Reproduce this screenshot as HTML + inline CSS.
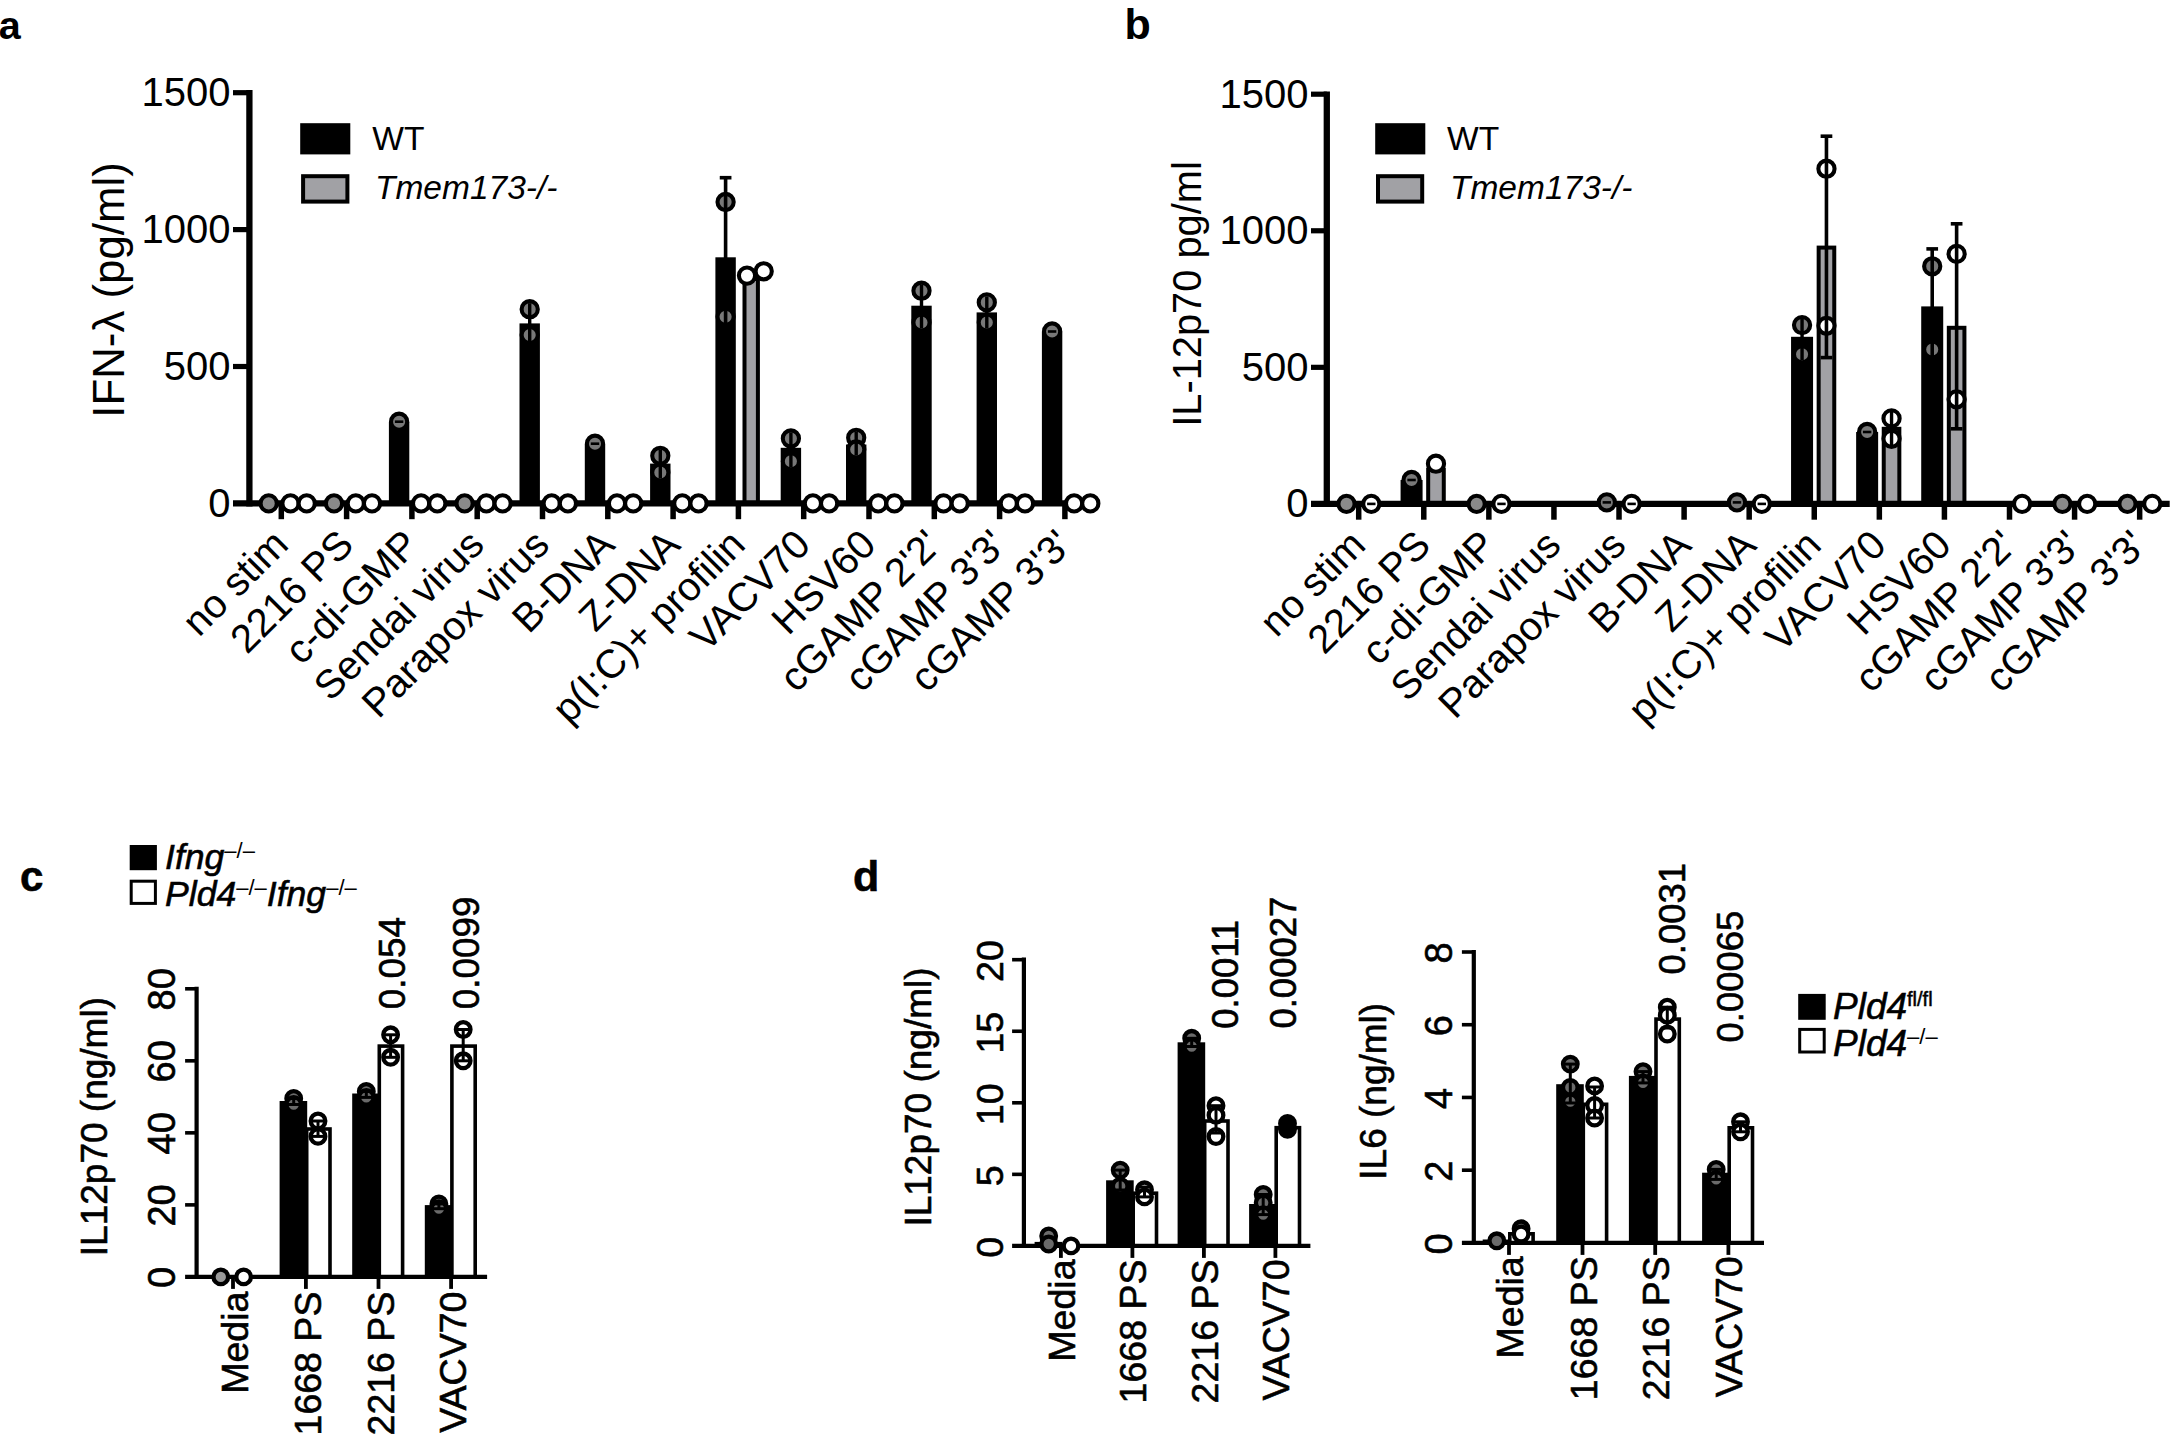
<!DOCTYPE html>
<html lang="en">
<head>
<meta charset="utf-8">
<title>Figure</title>
<style>
html,body{margin:0;padding:0;background:#fff;}
body{width:2177px;height:1436px;overflow:hidden;}
svg{display:block;}
svg text{font-family:"Liberation Sans",sans-serif;fill:#000;}
</style>
</head>
<body>
<svg width="2177" height="1436" viewBox="0 0 2177 1436">
<rect x="0" y="0" width="2177" height="1436" fill="#fff"/>
<rect x="388.9" y="422" width="20.4" height="81.4" fill="#000"/>
<rect x="519.5" y="323.4" width="20.4" height="180" fill="#000"/>
<rect x="584.8" y="444" width="20.4" height="59.4" fill="#000"/>
<rect x="650.1" y="463.6" width="20.4" height="39.8" fill="#000"/>
<rect x="715.4" y="257.3" width="20.4" height="246.1" fill="#000"/>
<rect x="744.5" y="279" width="13.4" height="224.4" fill="#a1a1a5" stroke="#000" stroke-width="4"/>
<rect x="780.7" y="447.8" width="20.4" height="55.6" fill="#000"/>
<rect x="846" y="444.5" width="20.4" height="58.9" fill="#000"/>
<rect x="911.3" y="305.7" width="20.4" height="197.7" fill="#000"/>
<rect x="976.6" y="312.4" width="20.4" height="191" fill="#000"/>
<rect x="1041.9" y="331.5" width="20.4" height="171.9" fill="#000"/>
<line x1="249.4" y1="90.1" x2="249.4" y2="506.6" stroke="#000" stroke-width="6.3"/>
<line x1="233" y1="503.4" x2="1098" y2="503.4" stroke="#000" stroke-width="6.4"/>
<line x1="233" y1="366.5" x2="249.4" y2="366.5" stroke="#000" stroke-width="5.2"/>
<line x1="233" y1="229.6" x2="249.4" y2="229.6" stroke="#000" stroke-width="5.2"/>
<line x1="233" y1="92.7" x2="249.4" y2="92.7" stroke="#000" stroke-width="5.2"/>
<line x1="281.3" y1="503.4" x2="281.3" y2="519.2" stroke="#000" stroke-width="5.5"/>
<line x1="346.6" y1="503.4" x2="346.6" y2="519.2" stroke="#000" stroke-width="5.5"/>
<line x1="411.9" y1="503.4" x2="411.9" y2="519.2" stroke="#000" stroke-width="5.5"/>
<line x1="477.2" y1="503.4" x2="477.2" y2="519.2" stroke="#000" stroke-width="5.5"/>
<line x1="542.5" y1="503.4" x2="542.5" y2="519.2" stroke="#000" stroke-width="5.5"/>
<line x1="607.8" y1="503.4" x2="607.8" y2="519.2" stroke="#000" stroke-width="5.5"/>
<line x1="673.1" y1="503.4" x2="673.1" y2="519.2" stroke="#000" stroke-width="5.5"/>
<line x1="738.4" y1="503.4" x2="738.4" y2="519.2" stroke="#000" stroke-width="5.5"/>
<line x1="803.7" y1="503.4" x2="803.7" y2="519.2" stroke="#000" stroke-width="5.5"/>
<line x1="869" y1="503.4" x2="869" y2="519.2" stroke="#000" stroke-width="5.5"/>
<line x1="934.3" y1="503.4" x2="934.3" y2="519.2" stroke="#000" stroke-width="5.5"/>
<line x1="999.6" y1="503.4" x2="999.6" y2="519.2" stroke="#000" stroke-width="5.5"/>
<line x1="1064.9" y1="503.4" x2="1064.9" y2="519.2" stroke="#000" stroke-width="5.5"/>
<text font-size="40" text-anchor="end" x="230.4" y="516.8">0</text>
<text font-size="40" text-anchor="end" x="230.4" y="379.9">500</text>
<text font-size="40" text-anchor="end" x="230.4" y="243">1000</text>
<text font-size="40" text-anchor="end" x="230.4" y="106.1">1500</text>
<circle cx="268.7" cy="503.4" r="8.1" fill="#8a8a8a" stroke="#000" stroke-width="4.1"/>
<circle cx="334" cy="503.4" r="8.1" fill="#8a8a8a" stroke="#000" stroke-width="4.1"/>
<circle cx="464.6" cy="503.4" r="8.1" fill="#8a8a8a" stroke="#000" stroke-width="4.1"/>
<circle cx="290.5" cy="503.4" r="8.1" fill="#fff" stroke="#000" stroke-width="4.1"/>
<circle cx="306.7" cy="503.4" r="8.1" fill="#fff" stroke="#000" stroke-width="4.1"/>
<circle cx="355.8" cy="503.4" r="8.1" fill="#fff" stroke="#000" stroke-width="4.1"/>
<circle cx="372" cy="503.4" r="8.1" fill="#fff" stroke="#000" stroke-width="4.1"/>
<circle cx="421.1" cy="503.4" r="8.1" fill="#fff" stroke="#000" stroke-width="4.1"/>
<circle cx="437.3" cy="503.4" r="8.1" fill="#fff" stroke="#000" stroke-width="4.1"/>
<circle cx="486.4" cy="503.4" r="8.1" fill="#fff" stroke="#000" stroke-width="4.1"/>
<circle cx="502.6" cy="503.4" r="8.1" fill="#fff" stroke="#000" stroke-width="4.1"/>
<circle cx="551.7" cy="503.4" r="8.1" fill="#fff" stroke="#000" stroke-width="4.1"/>
<circle cx="567.9" cy="503.4" r="8.1" fill="#fff" stroke="#000" stroke-width="4.1"/>
<circle cx="617" cy="503.4" r="8.1" fill="#fff" stroke="#000" stroke-width="4.1"/>
<circle cx="633.2" cy="503.4" r="8.1" fill="#fff" stroke="#000" stroke-width="4.1"/>
<circle cx="682.3" cy="503.4" r="8.1" fill="#fff" stroke="#000" stroke-width="4.1"/>
<circle cx="698.5" cy="503.4" r="8.1" fill="#fff" stroke="#000" stroke-width="4.1"/>
<circle cx="812.9" cy="503.4" r="8.1" fill="#fff" stroke="#000" stroke-width="4.1"/>
<circle cx="829.1" cy="503.4" r="8.1" fill="#fff" stroke="#000" stroke-width="4.1"/>
<circle cx="878.2" cy="503.4" r="8.1" fill="#fff" stroke="#000" stroke-width="4.1"/>
<circle cx="894.4" cy="503.4" r="8.1" fill="#fff" stroke="#000" stroke-width="4.1"/>
<circle cx="943.5" cy="503.4" r="8.1" fill="#fff" stroke="#000" stroke-width="4.1"/>
<circle cx="959.7" cy="503.4" r="8.1" fill="#fff" stroke="#000" stroke-width="4.1"/>
<circle cx="1008.8" cy="503.4" r="8.1" fill="#fff" stroke="#000" stroke-width="4.1"/>
<circle cx="1025" cy="503.4" r="8.1" fill="#fff" stroke="#000" stroke-width="4.1"/>
<circle cx="1074.1" cy="503.4" r="8.1" fill="#fff" stroke="#000" stroke-width="4.1"/>
<circle cx="1090.3" cy="503.4" r="8.1" fill="#fff" stroke="#000" stroke-width="4.1"/>
<circle cx="399.1" cy="421.7" r="8.1" fill="#787878" stroke="#000" stroke-width="4.1"/>
<circle cx="529.7" cy="309.2" r="8.1" fill="#787878" stroke="#000" stroke-width="4.1"/>
<circle cx="529.7" cy="335" r="8.1" fill="#787878" stroke="#000" stroke-width="4.1"/>
<circle cx="595" cy="443.7" r="8.1" fill="#787878" stroke="#000" stroke-width="4.1"/>
<circle cx="660.3" cy="455.8" r="8.1" fill="#787878" stroke="#000" stroke-width="4.1"/>
<circle cx="660.3" cy="472.5" r="8.1" fill="#787878" stroke="#000" stroke-width="4.1"/>
<circle cx="725.6" cy="202" r="8.1" fill="#787878" stroke="#000" stroke-width="4.1"/>
<circle cx="725.6" cy="316.8" r="8.1" fill="#787878" stroke="#000" stroke-width="4.1"/>
<circle cx="790.9" cy="438.5" r="8.1" fill="#787878" stroke="#000" stroke-width="4.1"/>
<circle cx="790.9" cy="461.2" r="8.1" fill="#787878" stroke="#000" stroke-width="4.1"/>
<circle cx="856.2" cy="437.8" r="8.1" fill="#787878" stroke="#000" stroke-width="4.1"/>
<circle cx="856.2" cy="449.5" r="8.1" fill="#787878" stroke="#000" stroke-width="4.1"/>
<circle cx="921.5" cy="290.7" r="8.1" fill="#787878" stroke="#000" stroke-width="4.1"/>
<circle cx="921.5" cy="322.5" r="8.1" fill="#787878" stroke="#000" stroke-width="4.1"/>
<circle cx="986.8" cy="302.4" r="8.1" fill="#787878" stroke="#000" stroke-width="4.1"/>
<circle cx="986.8" cy="322.5" r="8.1" fill="#787878" stroke="#000" stroke-width="4.1"/>
<circle cx="1052.1" cy="331.5" r="8.1" fill="#787878" stroke="#000" stroke-width="4.1"/>
<circle cx="747" cy="275.6" r="8.1" fill="#fff" stroke="#000" stroke-width="4.1"/>
<circle cx="763.7" cy="271.3" r="8.1" fill="#fff" stroke="#000" stroke-width="4.1"/>
<line x1="725.6" y1="177.7" x2="725.6" y2="336.9" stroke="#000" stroke-width="3.6"/>
<line x1="719.75" y1="177.7" x2="731.45" y2="177.7" stroke="#000" stroke-width="3.6"/>
<line x1="719.75" y1="336.9" x2="731.45" y2="336.9" stroke="#000" stroke-width="3.6"/>
<line x1="529.7" y1="303.2" x2="529.7" y2="341" stroke="#000" stroke-width="3.4"/>
<line x1="529.7" y1="303.2" x2="529.7" y2="303.2" stroke="#000" stroke-width="3.4"/>
<line x1="529.7" y1="341" x2="529.7" y2="341" stroke="#000" stroke-width="3.4"/>
<line x1="660.3" y1="449.8" x2="660.3" y2="478.5" stroke="#000" stroke-width="3.4"/>
<line x1="660.3" y1="449.8" x2="660.3" y2="449.8" stroke="#000" stroke-width="3.4"/>
<line x1="660.3" y1="478.5" x2="660.3" y2="478.5" stroke="#000" stroke-width="3.4"/>
<line x1="790.9" y1="432.5" x2="790.9" y2="467.2" stroke="#000" stroke-width="3.4"/>
<line x1="790.9" y1="432.5" x2="790.9" y2="432.5" stroke="#000" stroke-width="3.4"/>
<line x1="790.9" y1="467.2" x2="790.9" y2="467.2" stroke="#000" stroke-width="3.4"/>
<line x1="856.2" y1="431.8" x2="856.2" y2="455.5" stroke="#000" stroke-width="3.4"/>
<line x1="856.2" y1="431.8" x2="856.2" y2="431.8" stroke="#000" stroke-width="3.4"/>
<line x1="856.2" y1="455.5" x2="856.2" y2="455.5" stroke="#000" stroke-width="3.4"/>
<line x1="921.5" y1="284.7" x2="921.5" y2="328.5" stroke="#000" stroke-width="3.4"/>
<line x1="921.5" y1="284.7" x2="921.5" y2="284.7" stroke="#000" stroke-width="3.4"/>
<line x1="921.5" y1="328.5" x2="921.5" y2="328.5" stroke="#000" stroke-width="3.4"/>
<line x1="986.8" y1="296.4" x2="986.8" y2="328.5" stroke="#000" stroke-width="3.4"/>
<line x1="986.8" y1="296.4" x2="986.8" y2="296.4" stroke="#000" stroke-width="3.4"/>
<line x1="986.8" y1="328.5" x2="986.8" y2="328.5" stroke="#000" stroke-width="3.4"/>
<line x1="394.9" y1="421.7" x2="403.3" y2="421.7" stroke="#000" stroke-width="2.6"/>
<line x1="590.8" y1="443.7" x2="599.2" y2="443.7" stroke="#000" stroke-width="2.6"/>
<line x1="1047.9" y1="331.5" x2="1056.3" y2="331.5" stroke="#000" stroke-width="2.6"/>
<text font-size="40" text-anchor="end" transform="translate(290.2 546.8) rotate(-45)">no stim</text>
<text font-size="40" text-anchor="end" transform="translate(355.5 546.8) rotate(-45)">2216 PS</text>
<text font-size="40" text-anchor="end" transform="translate(420.8 546.8) rotate(-45)">c-di-GMP</text>
<text font-size="40" text-anchor="end" transform="translate(486.1 546.8) rotate(-45)">Sendai virus</text>
<text font-size="40" text-anchor="end" transform="translate(551.4 546.8) rotate(-45)">Parapox virus</text>
<text font-size="40" text-anchor="end" transform="translate(616.7 546.8) rotate(-45)">B-DNA</text>
<text font-size="40" text-anchor="end" transform="translate(682 546.8) rotate(-45)">Z-DNA</text>
<text font-size="40" text-anchor="end" transform="translate(747.3 546.8) rotate(-45)">p(I:C)+ profilin</text>
<text font-size="40" text-anchor="end" transform="translate(812.6 546.8) rotate(-45)">VACV70</text>
<text font-size="40" text-anchor="end" transform="translate(877.9 546.8) rotate(-45)">HSV60</text>
<text font-size="40" text-anchor="end" transform="translate(943.2 546.8) rotate(-45)">cGAMP 2'2'</text>
<text font-size="40" text-anchor="end" transform="translate(1008.5 546.8) rotate(-45)">cGAMP 3'3'</text>
<text font-size="40" text-anchor="end" transform="translate(1073.8 546.8) rotate(-45)">cGAMP 3'3'</text>
<text font-size="39.5" font-weight="bold" x="-1.2" y="38.9">a</text>
<text font-size="43.8" text-anchor="middle" transform="translate(123.5 290) rotate(-90)">IFN-λ (pg/ml)</text>
<rect x="300.2" y="123.2" width="50.1" height="31.2" fill="#000"/>
<rect x="303.1" y="176.2" width="44.3" height="25.4" fill="#a1a1a5" stroke="#000" stroke-width="4"/>
<text font-size="33.6" x="372.2" y="150.3">WT</text>
<text font-size="33.5" font-style="italic" x="375" y="198.8">Tmem173-/-</text>
<rect x="1400.58" y="480" width="22" height="23.9" fill="#000"/>
<rect x="1428.18" y="470" width="15.6" height="33.9" fill="#a1a1a5" stroke="#000" stroke-width="4"/>
<rect x="1791.06" y="336.8" width="22" height="167.1" fill="#000"/>
<rect x="1818.66" y="247.6" width="15.6" height="256.3" fill="#a1a1a5" stroke="#000" stroke-width="4"/>
<rect x="1856.14" y="432" width="22" height="71.9" fill="#000"/>
<rect x="1883.74" y="428.8" width="15.6" height="75.1" fill="#a1a1a5" stroke="#000" stroke-width="4"/>
<rect x="1921.22" y="306.4" width="22" height="197.5" fill="#000"/>
<rect x="1948.82" y="327.8" width="15.6" height="176.1" fill="#a1a1a5" stroke="#000" stroke-width="4"/>
<line x1="1326.8" y1="91.6" x2="1326.8" y2="507.1" stroke="#000" stroke-width="6.3"/>
<line x1="1311" y1="503.9" x2="2169.7" y2="503.9" stroke="#000" stroke-width="6.4"/>
<line x1="1311" y1="367.33" x2="1326.8" y2="367.33" stroke="#000" stroke-width="5.2"/>
<line x1="1311" y1="230.77" x2="1326.8" y2="230.77" stroke="#000" stroke-width="5.2"/>
<line x1="1311" y1="94.2" x2="1326.8" y2="94.2" stroke="#000" stroke-width="5.2"/>
<line x1="1358.7" y1="503.9" x2="1358.7" y2="519.7" stroke="#000" stroke-width="5.5"/>
<line x1="1423.78" y1="503.9" x2="1423.78" y2="519.7" stroke="#000" stroke-width="5.5"/>
<line x1="1488.86" y1="503.9" x2="1488.86" y2="519.7" stroke="#000" stroke-width="5.5"/>
<line x1="1553.94" y1="503.9" x2="1553.94" y2="519.7" stroke="#000" stroke-width="5.5"/>
<line x1="1619.02" y1="503.9" x2="1619.02" y2="519.7" stroke="#000" stroke-width="5.5"/>
<line x1="1684.1" y1="503.9" x2="1684.1" y2="519.7" stroke="#000" stroke-width="5.5"/>
<line x1="1749.18" y1="503.9" x2="1749.18" y2="519.7" stroke="#000" stroke-width="5.5"/>
<line x1="1814.26" y1="503.9" x2="1814.26" y2="519.7" stroke="#000" stroke-width="5.5"/>
<line x1="1879.34" y1="503.9" x2="1879.34" y2="519.7" stroke="#000" stroke-width="5.5"/>
<line x1="1944.42" y1="503.9" x2="1944.42" y2="519.7" stroke="#000" stroke-width="5.5"/>
<line x1="2009.5" y1="503.9" x2="2009.5" y2="519.7" stroke="#000" stroke-width="5.5"/>
<line x1="2074.58" y1="503.9" x2="2074.58" y2="519.7" stroke="#000" stroke-width="5.5"/>
<line x1="2139.66" y1="503.9" x2="2139.66" y2="519.7" stroke="#000" stroke-width="5.5"/>
<text font-size="40" text-anchor="end" x="1308.4" y="517.3">0</text>
<text font-size="40" text-anchor="end" x="1308.4" y="380.73">500</text>
<text font-size="40" text-anchor="end" x="1308.4" y="244.17">1000</text>
<text font-size="40" text-anchor="end" x="1308.4" y="107.6">1500</text>
<circle cx="1346.5" cy="503.9" r="8.1" fill="#8a8a8a" stroke="#000" stroke-width="4.1"/>
<circle cx="1476.66" cy="503.9" r="8.1" fill="#8a8a8a" stroke="#000" stroke-width="4.1"/>
<circle cx="2062.38" cy="503.9" r="8.1" fill="#8a8a8a" stroke="#000" stroke-width="4.1"/>
<circle cx="2127.46" cy="503.9" r="8.1" fill="#8a8a8a" stroke="#000" stroke-width="4.1"/>
<circle cx="1606.82" cy="502.4" r="8.1" fill="#787878" stroke="#000" stroke-width="4.1"/>
<circle cx="1736.98" cy="502.4" r="8.1" fill="#787878" stroke="#000" stroke-width="4.1"/>
<circle cx="1371.3" cy="503.9" r="8.1" fill="#fff" stroke="#000" stroke-width="4.1"/>
<circle cx="1501.46" cy="503.9" r="8.1" fill="#fff" stroke="#000" stroke-width="4.1"/>
<circle cx="1631.62" cy="503.9" r="8.1" fill="#fff" stroke="#000" stroke-width="4.1"/>
<circle cx="1761.78" cy="503.9" r="8.1" fill="#fff" stroke="#000" stroke-width="4.1"/>
<circle cx="2022.1" cy="503.9" r="8.1" fill="#fff" stroke="#000" stroke-width="4.1"/>
<circle cx="2087.18" cy="503.9" r="8.1" fill="#fff" stroke="#000" stroke-width="4.1"/>
<circle cx="2152.26" cy="503.9" r="8.1" fill="#fff" stroke="#000" stroke-width="4.1"/>
<circle cx="1411.58" cy="480" r="8.1" fill="#787878" stroke="#000" stroke-width="4.1"/>
<circle cx="1435.98" cy="463.7" r="8.1" fill="#fff" stroke="#000" stroke-width="4.1"/>
<circle cx="1802.06" cy="325.1" r="8.1" fill="#787878" stroke="#000" stroke-width="4.1"/>
<circle cx="1802.06" cy="354.2" r="8.1" fill="#787878" stroke="#000" stroke-width="4.1"/>
<circle cx="1826.46" cy="168.7" r="8.1" fill="#fff" stroke="#000" stroke-width="4.1"/>
<circle cx="1826.46" cy="325.8" r="8.1" fill="#fff" stroke="#000" stroke-width="4.1"/>
<circle cx="1867.14" cy="432" r="8.1" fill="#787878" stroke="#000" stroke-width="4.1"/>
<circle cx="1891.54" cy="418.4" r="8.1" fill="#fff" stroke="#000" stroke-width="4.1"/>
<circle cx="1891.54" cy="438.8" r="8.1" fill="#fff" stroke="#000" stroke-width="4.1"/>
<circle cx="1932.22" cy="266.3" r="8.1" fill="#787878" stroke="#000" stroke-width="4.1"/>
<circle cx="1932.22" cy="349.5" r="8.1" fill="#787878" stroke="#000" stroke-width="4.1"/>
<circle cx="1956.62" cy="253.9" r="8.1" fill="#fff" stroke="#000" stroke-width="4.1"/>
<circle cx="1956.62" cy="399.3" r="8.1" fill="#fff" stroke="#000" stroke-width="4.1"/>
<line x1="1826.46" y1="136.2" x2="1826.46" y2="357.6" stroke="#000" stroke-width="3.6"/>
<line x1="1820.61" y1="136.2" x2="1832.31" y2="136.2" stroke="#000" stroke-width="3.6"/>
<line x1="1820.61" y1="357.6" x2="1832.31" y2="357.6" stroke="#000" stroke-width="3.6"/>
<line x1="1932.22" y1="248.9" x2="1932.22" y2="363.9" stroke="#000" stroke-width="3.6"/>
<line x1="1926.37" y1="248.9" x2="1938.07" y2="248.9" stroke="#000" stroke-width="3.6"/>
<line x1="1926.37" y1="363.9" x2="1938.07" y2="363.9" stroke="#000" stroke-width="3.6"/>
<line x1="1956.62" y1="223.8" x2="1956.62" y2="428.8" stroke="#000" stroke-width="3.6"/>
<line x1="1950.77" y1="223.8" x2="1962.47" y2="223.8" stroke="#000" stroke-width="3.6"/>
<line x1="1950.77" y1="428.8" x2="1962.47" y2="428.8" stroke="#000" stroke-width="3.6"/>
<line x1="1802.06" y1="319" x2="1802.06" y2="360" stroke="#000" stroke-width="3.4"/>
<line x1="1802.06" y1="319" x2="1802.06" y2="319" stroke="#000" stroke-width="3.4"/>
<line x1="1802.06" y1="360" x2="1802.06" y2="360" stroke="#000" stroke-width="3.4"/>
<line x1="1891.54" y1="412" x2="1891.54" y2="445" stroke="#000" stroke-width="3.4"/>
<line x1="1891.54" y1="412" x2="1891.54" y2="412" stroke="#000" stroke-width="3.4"/>
<line x1="1891.54" y1="445" x2="1891.54" y2="445" stroke="#000" stroke-width="3.4"/>
<line x1="1367.1" y1="503.9" x2="1375.5" y2="503.9" stroke="#000" stroke-width="2.6"/>
<line x1="1497.26" y1="503.9" x2="1505.66" y2="503.9" stroke="#000" stroke-width="2.6"/>
<line x1="1627.42" y1="503.9" x2="1635.82" y2="503.9" stroke="#000" stroke-width="2.6"/>
<line x1="1757.58" y1="503.9" x2="1765.98" y2="503.9" stroke="#000" stroke-width="2.6"/>
<line x1="1407.38" y1="480" x2="1415.78" y2="480" stroke="#000" stroke-width="2.6"/>
<line x1="1862.94" y1="432" x2="1871.34" y2="432" stroke="#000" stroke-width="2.6"/>
<line x1="1602.62" y1="502.4" x2="1611.02" y2="502.4" stroke="#000" stroke-width="2.6"/>
<line x1="1732.78" y1="502.4" x2="1741.18" y2="502.4" stroke="#000" stroke-width="2.6"/>
<text font-size="40" text-anchor="end" transform="translate(1367.6 547.3) rotate(-45)">no stim</text>
<text font-size="40" text-anchor="end" transform="translate(1432.68 547.3) rotate(-45)">2216 PS</text>
<text font-size="40" text-anchor="end" transform="translate(1497.76 547.3) rotate(-45)">c-di-GMP</text>
<text font-size="40" text-anchor="end" transform="translate(1562.84 547.3) rotate(-45)">Sendai virus</text>
<text font-size="40" text-anchor="end" transform="translate(1627.92 547.3) rotate(-45)">Parapox virus</text>
<text font-size="40" text-anchor="end" transform="translate(1693 547.3) rotate(-45)">B-DNA</text>
<text font-size="40" text-anchor="end" transform="translate(1758.08 547.3) rotate(-45)">Z-DNA</text>
<text font-size="40" text-anchor="end" transform="translate(1823.16 547.3) rotate(-45)">p(I:C)+ profilin</text>
<text font-size="40" text-anchor="end" transform="translate(1888.24 547.3) rotate(-45)">VACV70</text>
<text font-size="40" text-anchor="end" transform="translate(1953.32 547.3) rotate(-45)">HSV60</text>
<text font-size="40" text-anchor="end" transform="translate(2018.4 547.3) rotate(-45)">cGAMP 2'2'</text>
<text font-size="40" text-anchor="end" transform="translate(2083.48 547.3) rotate(-45)">cGAMP 3'3'</text>
<text font-size="40" text-anchor="end" transform="translate(2148.56 547.3) rotate(-45)">cGAMP 3'3'</text>
<text font-size="43" font-weight="bold" x="1124.5" y="39.3">b</text>
<text font-size="39.8" text-anchor="middle" transform="translate(1201 294) rotate(-90)">IL-12p70 pg/ml</text>
<rect x="1375.2" y="123.2" width="50.1" height="31.2" fill="#000"/>
<rect x="1378" y="176.2" width="44.2" height="25.4" fill="#a1a1a5" stroke="#000" stroke-width="4"/>
<text font-size="33.6" x="1447" y="149.6">WT</text>
<text font-size="33.5" font-style="italic" x="1450" y="198.7">Tmem173-/-</text>
<rect x="279.6" y="1101" width="27.6" height="175.9" fill="#000"/>
<rect x="306.7" y="1129" width="23.3" height="147.9" fill="#fff" stroke="#000" stroke-width="3.6"/>
<rect x="352.2" y="1093.5" width="27.6" height="183.4" fill="#000"/>
<rect x="379.3" y="1046.1" width="23.3" height="230.8" fill="#fff" stroke="#000" stroke-width="3.6"/>
<rect x="424.8" y="1205.1" width="27.6" height="71.8" fill="#000"/>
<rect x="451.9" y="1046.1" width="23.3" height="230.8" fill="#fff" stroke="#000" stroke-width="3.6"/>
<line x1="196.6" y1="986.7" x2="196.6" y2="1279" stroke="#000" stroke-width="4.2"/>
<line x1="185.1" y1="1276.9" x2="487.1" y2="1276.9" stroke="#000" stroke-width="4.2"/>
<text font-size="38" stroke="#000" stroke-width="0.6" text-anchor="middle" transform="translate(175 1277.4) rotate(-90)">0</text>
<line x1="185.1" y1="1204.88" x2="196.6" y2="1204.88" stroke="#000" stroke-width="3.6"/>
<text font-size="38" stroke="#000" stroke-width="0.6" text-anchor="middle" transform="translate(175 1205.38) rotate(-90)">20</text>
<line x1="185.1" y1="1132.85" x2="196.6" y2="1132.85" stroke="#000" stroke-width="3.6"/>
<text font-size="38" stroke="#000" stroke-width="0.6" text-anchor="middle" transform="translate(175 1133.35) rotate(-90)">40</text>
<line x1="185.1" y1="1060.83" x2="196.6" y2="1060.83" stroke="#000" stroke-width="3.6"/>
<text font-size="38" stroke="#000" stroke-width="0.6" text-anchor="middle" transform="translate(175 1061.33) rotate(-90)">60</text>
<line x1="185.1" y1="988.8" x2="196.6" y2="988.8" stroke="#000" stroke-width="3.6"/>
<text font-size="38" stroke="#000" stroke-width="0.6" text-anchor="middle" transform="translate(175 989.3) rotate(-90)">80</text>
<line x1="233" y1="1276.9" x2="233" y2="1288.9" stroke="#000" stroke-width="3.8"/>
<line x1="305.9" y1="1276.9" x2="305.9" y2="1288.9" stroke="#000" stroke-width="3.8"/>
<line x1="378.5" y1="1276.9" x2="378.5" y2="1288.9" stroke="#000" stroke-width="3.8"/>
<line x1="451.1" y1="1276.9" x2="451.1" y2="1288.9" stroke="#000" stroke-width="3.8"/>
<circle cx="220.8" cy="1276.9" r="7.3" fill="#999" stroke="#000" stroke-width="4.3"/>
<circle cx="243.6" cy="1276.9" r="7.3" fill="#fff" stroke="#000" stroke-width="4.3"/>
<circle cx="293.7" cy="1098.5" r="7.3" fill="#6a6a6a" stroke="#000" stroke-width="4.3"/>
<circle cx="293.7" cy="1104.5" r="7.3" fill="#6a6a6a" stroke="#000" stroke-width="4.3"/>
<circle cx="318" cy="1121" r="7.3" fill="#fff" stroke="#000" stroke-width="4.3"/>
<circle cx="318" cy="1136.4" r="7.3" fill="#fff" stroke="#000" stroke-width="4.3"/>
<circle cx="366.3" cy="1091.4" r="7.3" fill="#6a6a6a" stroke="#000" stroke-width="4.3"/>
<circle cx="366.3" cy="1097.4" r="7.3" fill="#6a6a6a" stroke="#000" stroke-width="4.3"/>
<circle cx="390.6" cy="1034.8" r="7.3" fill="#fff" stroke="#000" stroke-width="4.3"/>
<circle cx="390.6" cy="1057.3" r="7.3" fill="#fff" stroke="#000" stroke-width="4.3"/>
<circle cx="438.9" cy="1203.9" r="7.3" fill="#6a6a6a" stroke="#000" stroke-width="4.3"/>
<circle cx="438.9" cy="1208.7" r="7.3" fill="#6a6a6a" stroke="#000" stroke-width="4.3"/>
<circle cx="463.2" cy="1029.5" r="7.3" fill="#fff" stroke="#000" stroke-width="4.3"/>
<circle cx="463.2" cy="1060.8" r="7.3" fill="#fff" stroke="#000" stroke-width="4.3"/>
<line x1="318" y1="1121" x2="318" y2="1136.4" stroke="#000" stroke-width="3"/>
<line x1="312" y1="1121" x2="324" y2="1121" stroke="#000" stroke-width="3"/>
<line x1="312" y1="1136.4" x2="324" y2="1136.4" stroke="#000" stroke-width="3"/>
<line x1="390.6" y1="1034.8" x2="390.6" y2="1057.3" stroke="#000" stroke-width="3"/>
<line x1="384.6" y1="1034.8" x2="396.6" y2="1034.8" stroke="#000" stroke-width="3"/>
<line x1="384.6" y1="1057.3" x2="396.6" y2="1057.3" stroke="#000" stroke-width="3"/>
<line x1="463.2" y1="1029.5" x2="463.2" y2="1060.8" stroke="#000" stroke-width="3"/>
<line x1="457.2" y1="1029.5" x2="469.2" y2="1029.5" stroke="#000" stroke-width="3"/>
<line x1="457.2" y1="1060.8" x2="469.2" y2="1060.8" stroke="#000" stroke-width="3"/>
<line x1="293.7" y1="1098.5" x2="293.7" y2="1104.5" stroke="#000" stroke-width="3"/>
<line x1="287.7" y1="1098.5" x2="299.7" y2="1098.5" stroke="#000" stroke-width="3"/>
<line x1="287.7" y1="1104.5" x2="299.7" y2="1104.5" stroke="#000" stroke-width="3"/>
<line x1="366.3" y1="1091.4" x2="366.3" y2="1097.4" stroke="#000" stroke-width="3"/>
<line x1="360.3" y1="1091.4" x2="372.3" y2="1091.4" stroke="#000" stroke-width="3"/>
<line x1="360.3" y1="1097.4" x2="372.3" y2="1097.4" stroke="#000" stroke-width="3"/>
<line x1="438.9" y1="1203.9" x2="438.9" y2="1208.7" stroke="#000" stroke-width="3"/>
<line x1="432.9" y1="1203.9" x2="444.9" y2="1203.9" stroke="#000" stroke-width="3"/>
<line x1="432.9" y1="1208.7" x2="444.9" y2="1208.7" stroke="#000" stroke-width="3"/>
<text font-size="37.5" stroke="#000" stroke-width="0.6" text-anchor="end" transform="translate(248 1291.6) rotate(-90)">Media</text>
<text font-size="37.5" stroke="#000" stroke-width="0.6" text-anchor="end" transform="translate(320.9 1291.6) rotate(-90)">1668 PS</text>
<text font-size="37.5" stroke="#000" stroke-width="0.6" text-anchor="end" transform="translate(393.5 1291.6) rotate(-90)">2216 PS</text>
<text font-size="37.5" stroke="#000" stroke-width="0.6" text-anchor="end" transform="translate(466.1 1291.6) rotate(-90)">VACV70</text>
<text font-size="36.8" stroke="#000" stroke-width="0.6" transform="translate(404.7 1009.2) rotate(-90)">0.054</text>
<text font-size="36.8" stroke="#000" stroke-width="0.6" transform="translate(478.6 1009.2) rotate(-90)">0.0099</text>
<text font-size="42" stroke="#000" stroke-width="0.6" font-weight="bold" x="20" y="890.5">c</text>
<text font-size="37" stroke="#000" stroke-width="0.6" text-anchor="middle" transform="translate(107.3 1126.6) rotate(-90)">IL12p70 (ng/ml)</text>
<rect x="129.7" y="845" width="27.2" height="25.2" fill="#000"/>
<rect x="131.2" y="881.2" width="24.2" height="22.2" fill="#fff" stroke="#000" stroke-width="3"/>
<text font-size="35.6" stroke="#000" stroke-width="0.6" font-style="italic" x="165" y="869">Ifng<tspan font-size="22" dy="-11.3" font-style="normal" stroke-width="0">–/–</tspan></text>
<text font-size="35.6" stroke="#000" stroke-width="0.6" font-style="italic" x="165" y="906">Pld4<tspan font-size="22" dy="-11.3" font-style="normal" stroke-width="0">–/–</tspan><tspan dy="11.3">Ifng</tspan><tspan font-size="22" dy="-11.3" font-style="normal" stroke-width="0">–/–</tspan></text>
<rect x="1034.6" y="1241.9" width="27.6" height="4" fill="#000"/>
<rect x="1106.1" y="1180.3" width="27.6" height="65.6" fill="#000"/>
<rect x="1133.2" y="1193.2" width="23.3" height="52.7" fill="#fff" stroke="#000" stroke-width="3.6"/>
<rect x="1177.6" y="1042.3" width="27.6" height="203.6" fill="#000"/>
<rect x="1204.7" y="1121" width="23.3" height="124.9" fill="#fff" stroke="#000" stroke-width="3.6"/>
<rect x="1249.1" y="1204" width="27.6" height="41.9" fill="#000"/>
<rect x="1276.2" y="1127.7" width="23.3" height="118.2" fill="#fff" stroke="#000" stroke-width="3.6"/>
<line x1="1023.9" y1="957.6" x2="1023.9" y2="1248" stroke="#000" stroke-width="4.2"/>
<line x1="1012.1" y1="1245.9" x2="1310.4" y2="1245.9" stroke="#000" stroke-width="4.2"/>
<text font-size="37.6" stroke="#000" stroke-width="0.6" text-anchor="middle" transform="translate(1002.6 1247.3) rotate(-90)">0</text>
<line x1="1012.1" y1="1174.35" x2="1023.9" y2="1174.35" stroke="#000" stroke-width="3.6"/>
<text font-size="37.6" stroke="#000" stroke-width="0.6" text-anchor="middle" transform="translate(1002.6 1175.75) rotate(-90)">5</text>
<line x1="1012.1" y1="1102.8" x2="1023.9" y2="1102.8" stroke="#000" stroke-width="3.6"/>
<text font-size="37.6" stroke="#000" stroke-width="0.6" text-anchor="middle" transform="translate(1002.6 1104.2) rotate(-90)">10</text>
<line x1="1012.1" y1="1031.25" x2="1023.9" y2="1031.25" stroke="#000" stroke-width="3.6"/>
<text font-size="37.6" stroke="#000" stroke-width="0.6" text-anchor="middle" transform="translate(1002.6 1032.65) rotate(-90)">15</text>
<line x1="1012.1" y1="959.7" x2="1023.9" y2="959.7" stroke="#000" stroke-width="3.6"/>
<text font-size="37.6" stroke="#000" stroke-width="0.6" text-anchor="middle" transform="translate(1002.6 961.1) rotate(-90)">20</text>
<line x1="1060.9" y1="1245.9" x2="1060.9" y2="1257.9" stroke="#000" stroke-width="3.8"/>
<line x1="1132.4" y1="1245.9" x2="1132.4" y2="1257.9" stroke="#000" stroke-width="3.8"/>
<line x1="1203.9" y1="1245.9" x2="1203.9" y2="1257.9" stroke="#000" stroke-width="3.8"/>
<line x1="1275.4" y1="1245.9" x2="1275.4" y2="1257.9" stroke="#000" stroke-width="3.8"/>
<circle cx="1048.7" cy="1236" r="7.3" fill="#6a6a6a" stroke="#000" stroke-width="4.3"/>
<circle cx="1048.7" cy="1244" r="7.3" fill="#6a6a6a" stroke="#000" stroke-width="4.3"/>
<circle cx="1071" cy="1245.9" r="7.3" fill="#fff" stroke="#000" stroke-width="4.3"/>
<circle cx="1120.2" cy="1170.1" r="7.3" fill="#6a6a6a" stroke="#000" stroke-width="4.3"/>
<circle cx="1120.2" cy="1186.2" r="7.3" fill="#6a6a6a" stroke="#000" stroke-width="4.3"/>
<circle cx="1144.5" cy="1189.8" r="7.3" fill="#fff" stroke="#000" stroke-width="4.3"/>
<circle cx="1144.5" cy="1196.9" r="7.3" fill="#fff" stroke="#000" stroke-width="4.3"/>
<circle cx="1191.7" cy="1038.3" r="7.3" fill="#6a6a6a" stroke="#000" stroke-width="4.3"/>
<circle cx="1191.7" cy="1046.5" r="7.3" fill="#6a6a6a" stroke="#000" stroke-width="4.3"/>
<circle cx="1216" cy="1105.7" r="7.3" fill="#fff" stroke="#000" stroke-width="4.3"/>
<circle cx="1216" cy="1115.2" r="7.3" fill="#fff" stroke="#000" stroke-width="4.3"/>
<circle cx="1216" cy="1136.5" r="7.3" fill="#fff" stroke="#000" stroke-width="4.3"/>
<circle cx="1263.2" cy="1194.5" r="7.3" fill="#6a6a6a" stroke="#000" stroke-width="4.3"/>
<circle cx="1263.2" cy="1202.8" r="7.3" fill="#6a6a6a" stroke="#000" stroke-width="4.3"/>
<circle cx="1263.2" cy="1214.6" r="7.3" fill="#6a6a6a" stroke="#000" stroke-width="4.3"/>
<circle cx="1287.5" cy="1123.5" r="7.3" fill="#000" stroke="#000" stroke-width="4.3"/>
<circle cx="1287.5" cy="1129.4" r="7.3" fill="#000" stroke="#000" stroke-width="4.3"/>
<line x1="1120.2" y1="1170.1" x2="1120.2" y2="1190" stroke="#000" stroke-width="3"/>
<line x1="1114.2" y1="1170.1" x2="1126.2" y2="1170.1" stroke="#000" stroke-width="3"/>
<line x1="1114.2" y1="1190" x2="1126.2" y2="1190" stroke="#000" stroke-width="3"/>
<line x1="1144.5" y1="1187" x2="1144.5" y2="1196.9" stroke="#000" stroke-width="3"/>
<line x1="1138.5" y1="1187" x2="1150.5" y2="1187" stroke="#000" stroke-width="3"/>
<line x1="1138.5" y1="1196.9" x2="1150.5" y2="1196.9" stroke="#000" stroke-width="3"/>
<line x1="1191.7" y1="1038.3" x2="1191.7" y2="1046.5" stroke="#000" stroke-width="3"/>
<line x1="1185.7" y1="1038.3" x2="1197.7" y2="1038.3" stroke="#000" stroke-width="3"/>
<line x1="1185.7" y1="1046.5" x2="1197.7" y2="1046.5" stroke="#000" stroke-width="3"/>
<line x1="1216" y1="1105.7" x2="1216" y2="1133" stroke="#000" stroke-width="3"/>
<line x1="1210" y1="1105.7" x2="1222" y2="1105.7" stroke="#000" stroke-width="3"/>
<line x1="1210" y1="1133" x2="1222" y2="1133" stroke="#000" stroke-width="3"/>
<line x1="1263.2" y1="1194.5" x2="1263.2" y2="1214.6" stroke="#000" stroke-width="3"/>
<line x1="1257.2" y1="1194.5" x2="1269.2" y2="1194.5" stroke="#000" stroke-width="3"/>
<line x1="1257.2" y1="1214.6" x2="1269.2" y2="1214.6" stroke="#000" stroke-width="3"/>
<text font-size="37.5" stroke="#000" stroke-width="0.6" text-anchor="end" transform="translate(1074.7 1259.5) rotate(-90)">Media</text>
<text font-size="37.5" stroke="#000" stroke-width="0.6" text-anchor="end" transform="translate(1146.2 1259.5) rotate(-90)">1668 PS</text>
<text font-size="37.5" stroke="#000" stroke-width="0.6" text-anchor="end" transform="translate(1217.7 1259.5) rotate(-90)">2216 PS</text>
<text font-size="37.5" stroke="#000" stroke-width="0.6" text-anchor="end" transform="translate(1289.2 1259.5) rotate(-90)">VACV70</text>
<text font-size="36.5" stroke="#000" stroke-width="0.6" transform="translate(1237.5 1028.8) rotate(-90)">0.0011</text>
<text font-size="36.5" stroke="#000" stroke-width="0.6" transform="translate(1296.2 1028.6) rotate(-90)">0.00027</text>
<text font-size="43" stroke="#000" stroke-width="0.6" font-weight="bold" x="853" y="890.6">d</text>
<text font-size="37" stroke="#000" stroke-width="0.6" text-anchor="middle" transform="translate(930.9 1097) rotate(-90)">IL12p70 (ng/ml)</text>
<rect x="1482.7" y="1239.5" width="27.6" height="3.4" fill="#000"/>
<rect x="1509.8" y="1233.8" width="23.3" height="9.1" fill="#fff" stroke="#000" stroke-width="3.6"/>
<rect x="1556.2" y="1084.2" width="27.6" height="158.7" fill="#000"/>
<rect x="1583.3" y="1104.3" width="23.3" height="138.6" fill="#fff" stroke="#000" stroke-width="3.6"/>
<rect x="1628.9" y="1075.9" width="27.6" height="167" fill="#000"/>
<rect x="1656" y="1019.1" width="23.3" height="223.8" fill="#fff" stroke="#000" stroke-width="3.6"/>
<rect x="1702.1" y="1172.7" width="27.6" height="70.2" fill="#000"/>
<rect x="1729.2" y="1127.8" width="23.3" height="115.1" fill="#fff" stroke="#000" stroke-width="3.6"/>
<line x1="1473.8" y1="949.9" x2="1473.8" y2="1245" stroke="#000" stroke-width="4.2"/>
<line x1="1461.9" y1="1242.9" x2="1764" y2="1242.9" stroke="#000" stroke-width="4.2"/>
<text font-size="38" stroke="#000" stroke-width="0.6" text-anchor="middle" transform="translate(1451.8 1243.9) rotate(-90)">0</text>
<line x1="1461.9" y1="1170.18" x2="1473.8" y2="1170.18" stroke="#000" stroke-width="3.6"/>
<text font-size="38" stroke="#000" stroke-width="0.6" text-anchor="middle" transform="translate(1451.8 1171.18) rotate(-90)">2</text>
<line x1="1461.9" y1="1097.45" x2="1473.8" y2="1097.45" stroke="#000" stroke-width="3.6"/>
<text font-size="38" stroke="#000" stroke-width="0.6" text-anchor="middle" transform="translate(1451.8 1098.45) rotate(-90)">4</text>
<line x1="1461.9" y1="1024.72" x2="1473.8" y2="1024.72" stroke="#000" stroke-width="3.6"/>
<text font-size="38" stroke="#000" stroke-width="0.6" text-anchor="middle" transform="translate(1451.8 1025.72) rotate(-90)">6</text>
<line x1="1461.9" y1="952" x2="1473.8" y2="952" stroke="#000" stroke-width="3.6"/>
<text font-size="38" stroke="#000" stroke-width="0.6" text-anchor="middle" transform="translate(1451.8 953) rotate(-90)">8</text>
<line x1="1509" y1="1242.9" x2="1509" y2="1254.9" stroke="#000" stroke-width="3.8"/>
<line x1="1582.5" y1="1242.9" x2="1582.5" y2="1254.9" stroke="#000" stroke-width="3.8"/>
<line x1="1655.2" y1="1242.9" x2="1655.2" y2="1254.9" stroke="#000" stroke-width="3.8"/>
<line x1="1728.4" y1="1242.9" x2="1728.4" y2="1254.9" stroke="#000" stroke-width="3.8"/>
<circle cx="1496.8" cy="1240.8" r="7.3" fill="#6a6a6a" stroke="#000" stroke-width="4.3"/>
<circle cx="1521.1" cy="1228.8" r="7.3" fill="#6a6a6a" stroke="#000" stroke-width="4.3"/>
<circle cx="1521.1" cy="1234" r="7.3" fill="#fff" stroke="#000" stroke-width="4.3"/>
<circle cx="1570.3" cy="1064.1" r="7.3" fill="#6a6a6a" stroke="#000" stroke-width="4.3"/>
<circle cx="1570.3" cy="1087.4" r="7.3" fill="#6a6a6a" stroke="#000" stroke-width="4.3"/>
<circle cx="1570.3" cy="1101.7" r="7.3" fill="#6a6a6a" stroke="#000" stroke-width="4.3"/>
<circle cx="1594.6" cy="1085.9" r="7.3" fill="#fff" stroke="#000" stroke-width="4.3"/>
<circle cx="1594.6" cy="1105.5" r="7.3" fill="#fff" stroke="#000" stroke-width="4.3"/>
<circle cx="1594.6" cy="1118" r="7.3" fill="#fff" stroke="#000" stroke-width="4.3"/>
<circle cx="1643" cy="1071.6" r="7.3" fill="#6a6a6a" stroke="#000" stroke-width="4.3"/>
<circle cx="1643" cy="1082.9" r="7.3" fill="#6a6a6a" stroke="#000" stroke-width="4.3"/>
<circle cx="1667.3" cy="1007.2" r="7.3" fill="#fff" stroke="#000" stroke-width="4.3"/>
<circle cx="1667.3" cy="1015.2" r="7.3" fill="#fff" stroke="#000" stroke-width="4.3"/>
<circle cx="1667.3" cy="1034" r="7.3" fill="#fff" stroke="#000" stroke-width="4.3"/>
<circle cx="1716.2" cy="1169.4" r="7.3" fill="#6a6a6a" stroke="#000" stroke-width="4.3"/>
<circle cx="1716.2" cy="1179.4" r="7.3" fill="#6a6a6a" stroke="#000" stroke-width="4.3"/>
<circle cx="1740.5" cy="1121.8" r="7.3" fill="#fff" stroke="#000" stroke-width="4.3"/>
<circle cx="1740.5" cy="1131.8" r="7.3" fill="#fff" stroke="#000" stroke-width="4.3"/>
<line x1="1570.3" y1="1064.1" x2="1570.3" y2="1103" stroke="#000" stroke-width="3"/>
<line x1="1564.3" y1="1064.1" x2="1576.3" y2="1064.1" stroke="#000" stroke-width="3"/>
<line x1="1564.3" y1="1103" x2="1576.3" y2="1103" stroke="#000" stroke-width="3"/>
<line x1="1594.6" y1="1087" x2="1594.6" y2="1118" stroke="#000" stroke-width="3"/>
<line x1="1588.6" y1="1087" x2="1600.6" y2="1087" stroke="#000" stroke-width="3"/>
<line x1="1588.6" y1="1118" x2="1600.6" y2="1118" stroke="#000" stroke-width="3"/>
<line x1="1643" y1="1071.6" x2="1643" y2="1082.9" stroke="#000" stroke-width="3"/>
<line x1="1637" y1="1071.6" x2="1649" y2="1071.6" stroke="#000" stroke-width="3"/>
<line x1="1637" y1="1082.9" x2="1649" y2="1082.9" stroke="#000" stroke-width="3"/>
<line x1="1667.3" y1="1007.2" x2="1667.3" y2="1028" stroke="#000" stroke-width="3"/>
<line x1="1661.3" y1="1007.2" x2="1673.3" y2="1007.2" stroke="#000" stroke-width="3"/>
<line x1="1661.3" y1="1028" x2="1673.3" y2="1028" stroke="#000" stroke-width="3"/>
<line x1="1716.2" y1="1169.4" x2="1716.2" y2="1179.4" stroke="#000" stroke-width="3"/>
<line x1="1710.2" y1="1169.4" x2="1722.2" y2="1169.4" stroke="#000" stroke-width="3"/>
<line x1="1710.2" y1="1179.4" x2="1722.2" y2="1179.4" stroke="#000" stroke-width="3"/>
<line x1="1740.5" y1="1121.8" x2="1740.5" y2="1131.8" stroke="#000" stroke-width="3"/>
<line x1="1734.5" y1="1121.8" x2="1746.5" y2="1121.8" stroke="#000" stroke-width="3"/>
<line x1="1734.5" y1="1131.8" x2="1746.5" y2="1131.8" stroke="#000" stroke-width="3"/>
<text font-size="37.5" stroke="#000" stroke-width="0.6" text-anchor="end" transform="translate(1523 1256.3) rotate(-90)">Media</text>
<text font-size="37.5" stroke="#000" stroke-width="0.6" text-anchor="end" transform="translate(1596.5 1256.3) rotate(-90)">1668 PS</text>
<text font-size="37.5" stroke="#000" stroke-width="0.6" text-anchor="end" transform="translate(1669.2 1256.3) rotate(-90)">2216 PS</text>
<text font-size="37.5" stroke="#000" stroke-width="0.6" text-anchor="end" transform="translate(1742.4 1256.3) rotate(-90)">VACV70</text>
<text font-size="36.4" stroke="#000" stroke-width="0.6" transform="translate(1684.9 974.4) rotate(-90)">0.0031</text>
<text font-size="36.4" stroke="#000" stroke-width="0.6" transform="translate(1743.2 1042.4) rotate(-90)">0.00065</text>
<text font-size="37" stroke="#000" stroke-width="0.6" text-anchor="middle" transform="translate(1386 1091.3) rotate(-90)">IL6 (ng/ml)</text>
<rect x="1798.2" y="993.9" width="27.5" height="25.9" fill="#000"/>
<rect x="1799.7" y="1029.4" width="24.5" height="22.6" fill="#fff" stroke="#000" stroke-width="3"/>
<text font-size="37" stroke="#000" stroke-width="0.6" font-style="italic" x="1833" y="1018.6">Pld4<tspan font-size="20" dy="-12.6" font-style="normal" stroke-width="0.5">fl/fl</tspan></text>
<text font-size="37" stroke="#000" stroke-width="0.6" font-style="italic" x="1833" y="1055.5">Pld4<tspan font-size="22" dy="-11.8" font-style="normal" stroke-width="0">–/–</tspan></text>
</svg>
</body>
</html>
